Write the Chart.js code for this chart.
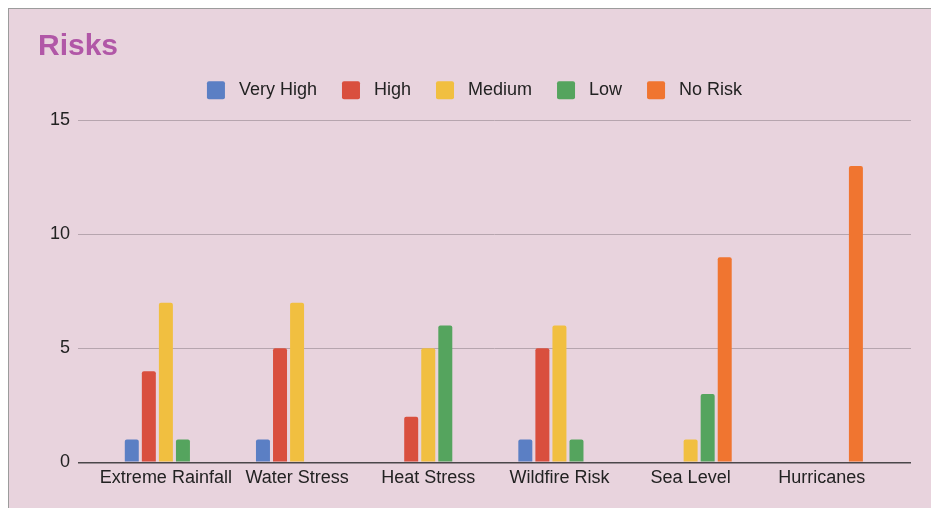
<!DOCTYPE html>
<html>
<head>
<meta charset="utf-8">
<script src="https://cdn.jsdelivr.net/npm/chart.js@4.4.1/dist/chart.umd.min.js"></script>
<style>
    html, body { margin: 0; padding: 0; background: #fff; width: 931px; height: 508px; overflow: hidden; }
    .frame { position: absolute; left: 8px; top: 8px; width: 940px; height: 520px; border: 1px solid #9c9c9c; background: #e8d3dd; }
    .box { position: absolute; left: 0; top: 0; width: 922px; height: 499px; }
</style>
</head>
<body>
<div class="frame"><div class="box"><canvas id="risksChart"></canvas></div></div>
<script>
(() => {
    const el = document.getElementById('risksChart');
    if (!el || !window.Chart) return;

    // data
    const categories = ['Extreme Rainfall', 'Water Stress', 'Heat Stress', 'Wildfire Risk', 'Sea Level', 'Hurricanes'];
    const veryHigh = [1, 1, 0, 1, 0, 0];
    const high = [4, 5, 2, 5, 0, 0];
    const medium = [7, 7, 5, 6, 1, 0];
    const low = [1, 0, 6, 1, 3, 0];
    const noRisk = [0, 0, 0, 0, 9, 13];
    const yTicks = [0, 5, 10, 15];

    const toPoints = (vals) => vals.map((v, i) => ({ x: i, y: v }));

    const bar = (label, vals, color) => ({
        label,
        data: toPoints(vals),
        backgroundColor: color,
        borderWidth: 0,
        borderRadius: 2,
        categoryPercentage: 0.65,
        barPercentage: 0.82
    });

    Chart.defaults.font.family = '"Liberation Sans", Arial, sans-serif';
    Chart.defaults.color = '#222';

    new Chart(el.getContext('2d'), {
        type: 'bar',
        data: {
            datasets: [
                bar('Very High', veryHigh, '#5b7fc4'),
                bar('High', high, '#d94f3e'),
                bar('Medium', medium, '#f1bf40'),
                bar('Low', low, '#55a45e'),
                bar('No Risk', noRisk, '#f07530')
            ]
        },
        options: {
            responsive: true,
            maintainAspectRatio: false,
            animation: false,
            layout: { padding: { left: 29, right: 20, top: 0, bottom: 14 } },
            plugins: {
                title: {
                    display: true,
                    text: 'Risks',
                    align: 'start',
                    color: '#b157a7',
                    font: { size: 30, weight: 'bold', lineHeight: 0.61 },
                    padding: { top: 29, bottom: 0 }
                },
                // empty spacer below the legend
                subtitle: {
                    display: true,
                    text: '',
                    weight: 500,
                    font: { size: 11, lineHeight: 1 },
                    padding: 0
                },
                legend: {
                    labels: {
                        boxWidth: 18,
                        boxHeight: 18,
                        padding: 25,
                        useBorderRadius: true,
                        borderRadius: 2,
                        font: { size: 18 },
                        color: '#222',
                        generateLabels: (chart) => Chart.defaults.plugins.legend.labels.generateLabels(chart)
                            .map((l) => ({ ...l, text: ' ' + l.text }))
                    }
                },
                tooltip: { enabled: false }
            },
            scales: {
                x: {
                    type: 'linear',
                    min: -0.67,
                    max: 5.68,
                    offset: false,
                    grid: { display: false, drawTicks: false },
                    border: { display: false },
                    ticks: {
                        stepSize: 1,
                        includeBounds: false,
                        autoSkip: false,
                        maxRotation: 0,
                        padding: 5,
                        font: { size: 18 },
                        callback: (v) => Number.isInteger(v) && categories[v] !== undefined ? categories[v] : ''
                    }
                },
                y: {
                    min: 0,
                    max: 15,
                    afterFit: (s) => { s.width = 40; },
                    afterBuildTicks: (s) => { s.ticks = yTicks.map((v) => ({ value: v })); },
                    grid: {
                        drawTicks: false,
                        color: (c) => c.tick && c.tick.value === 0 ? '#4a474a' : '#b6a5ae',
                        lineWidth: (c) => c.tick && c.tick.value === 0 ? 1.6 : 1
                    },
                    border: { display: false },
                    ticks: { padding: 8, font: { size: 18 } }
                }
            }
        }
    });
})();
</script>
</body>
</html>
